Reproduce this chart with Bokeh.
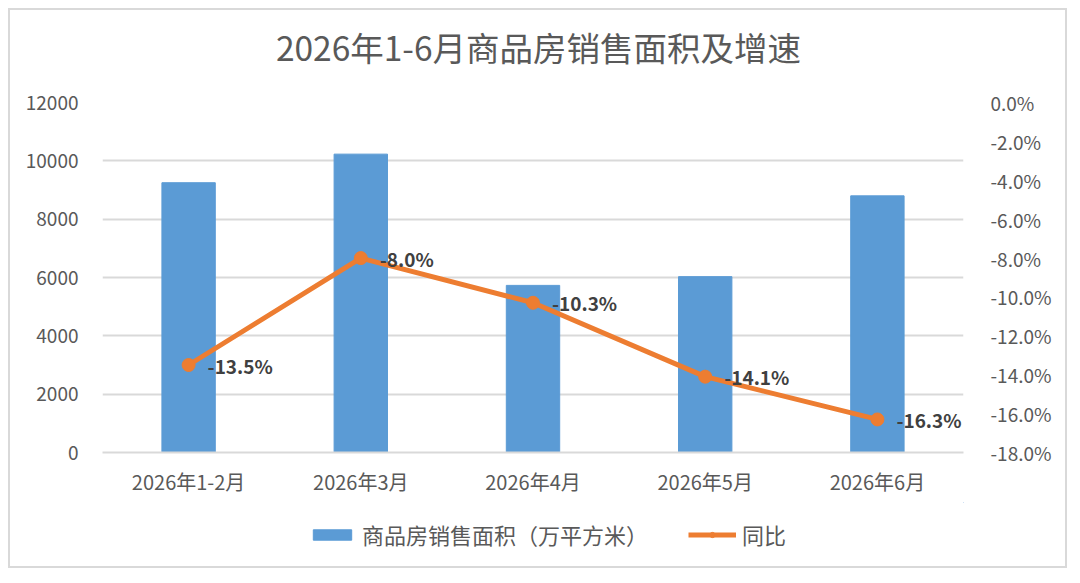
from bokeh.embed import file_html
from bokeh.resources import INLINE
from bokeh.plotting import figure
from bokeh.layouts import column
from bokeh.models import (ColumnDataSource, Range1d, LinearAxis, FixedTicker,
                          PrintfTickFormatter, Legend, LegendItem, Label)
from bokeh.core.properties import value

# Data
# ----
months = ["2026年1-2月", "2026年3月", "2026年4月", "2026年5月", "2026年6月"]
sales_area = [9250, 10230, 5730, 6030, 8800]      # 万平方米
yoy_growth = [-13.5, -8.0, -10.3, -14.1, -16.3]   # %
yoy_labels = ["-13.5%", "-8.0%", "-10.3%", "-14.1%", "-16.3%"]

title_text = "2026年1-6月商品房销售面积及增速"
bar_name = "商品房销售面积（万平方米）"
line_name = "同比"

font = "Noto Sans CJK SC"
grey_text = "#595959"
grid_color = "#d9d9d9"
bar_color = "#5b9bd5"
line_color = "#ed7d31"

total_width = 1055

source = ColumnDataSource(data={
    "month": months,
    "area": sales_area,
    "yoy": yoy_growth,
    "label": yoy_labels,
})

# Title strip (its frame is aligned with the main chart's frame)
# -----------
title_fig = figure(width=total_width, height=76, x_axis_type=None, y_axis_type=None,
                   output_backend="svg", toolbar_location=None, min_border=0)
title_fig.outline_line_color = None
title_fig.grid.visible = False
title_fig.add_layout(Label(
    x=436, y=40, x_units="screen", y_units="screen", text=title_text,
    text_align="center", text_baseline="middle", text_font=font,
    text_font_size="33.5px", text_color=grey_text,
))

# Main chart
# ----------
p = figure(
    x_range=months,
    y_range=Range1d(0, 12000),
    frame_width=861,
    frame_height=350,
    output_backend="svg",
    toolbar_location=None,
    min_border_left=92,
    min_border_right=102,
    min_border_top=16,
    min_border_bottom=50,
)
p.outline_line_color = None
p.extra_y_ranges = {"pct": Range1d(-18, 0)}

# Left axis
p.yaxis.ticker = FixedTicker(ticks=[0, 2000, 4000, 6000, 8000, 10000, 12000])
p.yaxis.axis_line_color = None
p.yaxis.major_tick_line_color = None
p.yaxis.minor_tick_line_color = None
p.yaxis.major_label_text_font = font
p.yaxis.major_label_text_font_size = "19px"
p.yaxis.major_label_text_color = grey_text
p.yaxis.major_label_standoff = 18

# Right axis
right_axis = LinearAxis(y_range_name="pct")
right_axis.ticker = FixedTicker(ticks=list(range(-18, 1, 2)))
right_axis.formatter = PrintfTickFormatter(format="%.1f%%")
right_axis.axis_line_color = None
right_axis.major_tick_line_color = None
right_axis.minor_tick_line_color = None
right_axis.major_label_text_font = font
right_axis.major_label_text_font_size = "19px"
right_axis.major_label_text_color = grey_text
right_axis.major_label_standoff = 21
p.add_layout(right_axis, "right")

# Bottom axis
p.xaxis.axis_line_color = grid_color
p.xaxis.axis_line_width = 2
p.xaxis.major_tick_line_color = None
p.xaxis.minor_tick_line_color = None
p.xaxis.major_label_text_font = font
p.xaxis.major_label_text_font_size = "20px"
p.xaxis.major_label_text_color = grey_text
p.xaxis.major_label_standoff = 8

# Grid
p.xgrid.grid_line_color = None
p.ygrid.grid_line_color = grid_color
p.ygrid.grid_line_width = 2
p.x_range.range_padding = 0.0

# Renderers
bars = p.vbar(x="month", top="area", width=0.31, source=source,
              fill_color=bar_color, line_color=bar_color)
line = p.line(x="month", y="yoy", source=source, y_range_name="pct",
              line_color=line_color, line_width=5)
dots = p.scatter(x="month", y="yoy", source=source, y_range_name="pct",
                 size=13, fill_color=line_color, line_color=line_color)
p.text(x="month", y="yoy", text="label", source=source, y_range_name="pct",
       x_offset=19, y_offset=0, text_align="left", text_baseline="middle",
       text_font=value(font), text_font_size="19px", text_font_style="bold",
       text_color="#404040")

# Legend strip
# ------------
legend_fig = figure(width=total_width, height=64, x_axis_type=None, y_axis_type=None,
                    x_range=(0, 1), y_range=(0, 1),
                    output_backend="svg", toolbar_location=None, min_border=0)
legend_fig.outline_line_color = None
legend_fig.grid.visible = False
# legend keys only: one point each, kept outside the visible range
key_bar = legend_fig.vbar(x=[5], top=[5], bottom=[4], width=0.1,
                          fill_color=bar_color, line_color=bar_color)
key_line = legend_fig.line(x=[5, 6], y=[5, 5], line_color=line_color, line_width=5)
key_dot = legend_fig.scatter(x=[5], y=[5], size=13,
                             fill_color=line_color, line_color=line_color)

legend = Legend(
    items=[
        LegendItem(label=bar_name, renderers=[key_bar]),
        LegendItem(label=line_name, renderers=[key_line, key_dot]),
    ],
    orientation="horizontal",
    location=(206, 16),
    glyph_width=48,
    glyph_height=13,
    spacing=40,
    label_standoff=6,
    label_text_font=font,
    label_text_font_size="22px",
    label_text_color=grey_text,
    border_line_color=None,
    background_fill_alpha=0,
    margin=0,
    padding=0,
)
legend_fig.add_layout(legend, "center")

layout = column(title_fig, p, legend_fig, spacing=0, margin=(8, 0, 0, 8),
                styles={"border": "2px solid #d9d9d9"})

open("out.html", "w").write(file_html(layout, INLINE))
